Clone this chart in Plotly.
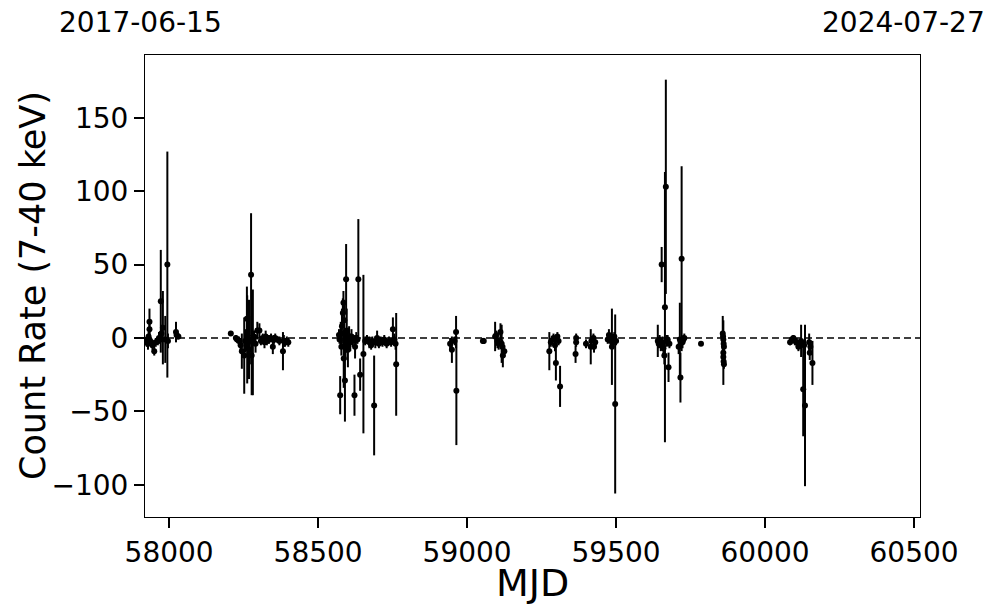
import plotly.graph_objects as go

# ---- data (MJD, count rate 7-40 keV, 1-sigma error) ----
mjd = [
    57925, 57927, 57929, 57931, 57934, 57934, 57936, 57940, 57944, 57950, 57955, 57962, 57966,
    57972, 57974, 57979, 57987, 57994, 57996, 58023, 58025, 58031,
    58207, 58224, 58228, 58234, 58240, 58244, 58252, 58255, 58261, 58262, 58263, 58268, 58271,
    58275, 58277, 58281, 58285, 58290, 58296, 58303, 58308, 58314, 58320, 58324, 58328, 58335,
    58342, 58348, 58352, 58356, 58363, 58370, 58382, 58385, 58389, 58395, 58400,
    58570, 58572, 58574, 58576, 58578, 58580, 58583, 58585, 58586, 58588, 58590, 58592, 58594,
    58596, 58600, 58604, 58608, 58612, 58616, 58622, 58624, 58628, 58632, 58635, 58641, 58652,
    58658, 58664, 58672, 58678, 58682, 58688, 58692, 58698, 58704, 58710, 58716, 58722, 58730,
    58738, 58745, 58751, 58756, 58760, 58762,
    58943, 58949, 58958, 58963, 58964,
    59053, 59056, 59094, 59098, 59102, 59106, 59112, 59116, 59118, 59120, 59125,
    59276, 59281, 59290, 59295, 59298, 59303, 59307, 59312, 59364, 59366, 59366, 59399, 59415,
    59417, 59424, 59426, 59430,
    59472, 59476, 59479, 59482, 59486, 59490, 59494, 59497, 59500,
    59640, 59643, 59646, 59650, 59653, 59656, 59659, 59662, 59664, 59667, 59670, 59673, 59676,
    59679, 59710, 59714, 59716, 59720, 59723, 59726, 59729,
    59785,
    59858, 59859, 59860, 59861, 59862, 59860, 59860, 59861, 59862,
    60084, 60090, 60095, 60100, 60106, 60112, 60116, 60121, 60128, 60131, 60134, 60148, 60150,
    60152, 60159,
]
rate = [
    -3, -1, -4, 1, 11, 6, -2, -3, -5, -9, -3, -2, 0,
    25, 3, 7, -1, 50, -2, 4, 2, 1,
    3, 0, -1, -2, -5, -9, -12, -2, 13, -1, -3, -1, -8,
    43, -12, -3, 1, -4, 5, 5, -2, 0, -3, 1, -2, -1,
    0, -6, -1, 0, -1, -2, -9, -2, -3, -2, -3,
    2, -1, -39, 3, -6, 8, 17, 24, -14, 12, -29, -5, 40,
    5, -8, 0, -3, 1, -2, -39, -6, 0, -1, 40, -25, -11,
    -2, -1, -3, -5, -2, -46, -3, 0, -4, -2, -3, -1, -4,
    -2, -3, 6, -1, -4, -18,
    -4, -8, -2, 4, -36,
    -2, -2, 1, 2, -2, -4, 4, -4, -6, -12, -9,
    -9, -3, 0, -5, -17, 1, -2, -33, -11, 0, -3, -4, -6,
    -2, 0, -6, -3,
    -1, 2, 0, -2, -6, -3, 1, -45, -2,
    -2, -4, -1, -5, 50, -3, -7, -12, 21, 103, -2, -1, -20,
    -4, -6, -1, -27, 54, -3, -1, 0,
    -4,
    3, 1, -1, -4, -6, -10, -13, -16, -18,
    -3, -1, 0, -2, -3, -6, -4, -2, -35, -5, -46, -3, -10,
    -6, -17,
]
err = [
    3, 2, 4, 3, 9, 6, 3, 3, 3, 3, 3, 3, 4,
    35, 6, 25, 16, 77, 5, 7, 3, 2,
    1, 2, 2, 3, 5, 12, 26, 8, 22, 30, 10, 27, 10,
    42, 27, 36, 4, 6, 6, 5, 3, 3, 4, 4, 3, 3,
    3, 5, 3, 3, 2, 3, 13, 4, 3, 3, 3,
    4, 3, 13, 8, 6, 12, 10, 8, 20, 14, 28, 10, 24,
    15, 12, 8, 6, 5, 4, 14, 8, 4, 3, 41, 11, 54,
    3, 3, 4, 3, 3, 34, 4, 5, 3, 3, 3, 3, 3,
    3, 3, 8, 4, 4, 35,
    4, 9, 3, 11, 37,
    2, 2, 10, 3, 5, 4, 6, 13, 5, 8, 4,
    13, 3, 3, 4, 12, 3, 3, 14, 6, 3, 3, 3, 12,
    3, 3, 4, 3,
    3, 4, 3, 3, 26, 4, 3, 61, 3,
    11, 3, 3, 4, 12, 4, 5, 6, 92, 73, 4, 3, 10,
    3, 5, 25, 17, 63, 4, 3, 3,
    1,
    12, 3, 3, 3, 3, 22, 3, 3, 3,
    2, 2, 2, 3, 3, 3, 3, 11, 32, 3, 55, 6, 5,
    4, 15,
]

x_ticks = [58000, 58500, 59000, 59500, 60000, 60500]
x_tick_text = ["58000", "58500", "59000", "59500", "60000", "60500"]
y_ticks = [-100, -50, 0, 50, 100, 150]
y_tick_text = ["\u2212100", "\u221250", "0", "50", "100", "150"]
start_date = "2017-06-15"
end_date = "2024-07-27"
x_range = [57919, 60520]
y_range = [-122, 192.8]

FONT = "DejaVu Sans"

fig = go.Figure()
fig.add_trace(go.Scatter(
    x=mjd, y=rate, mode="markers",
    marker=dict(color="black", size=6),
    error_y=dict(type="data", array=err, visible=True, color="black",
                 thickness=2, width=0),
    showlegend=False, hoverinfo="x+y",
))

fig.add_shape(type="line", xref="paper", x0=0, x1=1, yref="y", y0=0, y1=0,
              line=dict(color="black", width=1.5, dash="7px,4px"), layer="below")

axis_common = dict(
    ticks="outside", ticklen=10, tickwidth=2, tickcolor="black",
    showline=True, linecolor="black", linewidth=1, mirror=True,
    showgrid=False, zeroline=False, automargin=False,
    tickfont=dict(family=FONT, size=28, color="black"),
)

# the page body adds an 8px margin, so the figure is sized/offset to compensate
fig.update_layout(
    width=989, height=605,
    margin=dict(l=137, r=77, t=47, b=96),
    paper_bgcolor="white", plot_bgcolor="white",
    font=dict(family=FONT, color="black", size=28),
    xaxis=dict(range=x_range, tickmode="array", tickvals=x_ticks, ticktext=x_tick_text,
               **axis_common),
    yaxis=dict(range=y_range, tickmode="array", tickvals=y_ticks, ticktext=y_tick_text,
               **axis_common),
    annotations=[
        dict(text="MJD", xref="paper", yref="paper", x=0.5, y=-0.143,
             xanchor="center", yanchor="middle", showarrow=False,
             font=dict(family=FONT, size=38, color="black")),
        dict(text="Count Rate (7-40 keV)", xref="paper", yref="paper", x=-0.1445, y=0.5,
             xanchor="center", yanchor="middle", textangle=-90, showarrow=False,
             font=dict(family=FONT, size=35, color="black")),
        dict(text=start_date, xref="paper", yref="paper", x=-0.1135, y=1.0714,
             xanchor="left", yanchor="middle", showarrow=False,
             font=dict(family=FONT, size=28, color="black")),
        dict(text=end_date, xref="paper", yref="paper", x=1.0865, y=1.0714,
             xanchor="right", yanchor="middle", showarrow=False,
             font=dict(family=FONT, size=28, color="black")),
    ],
)

fig.write_html("out.html")
